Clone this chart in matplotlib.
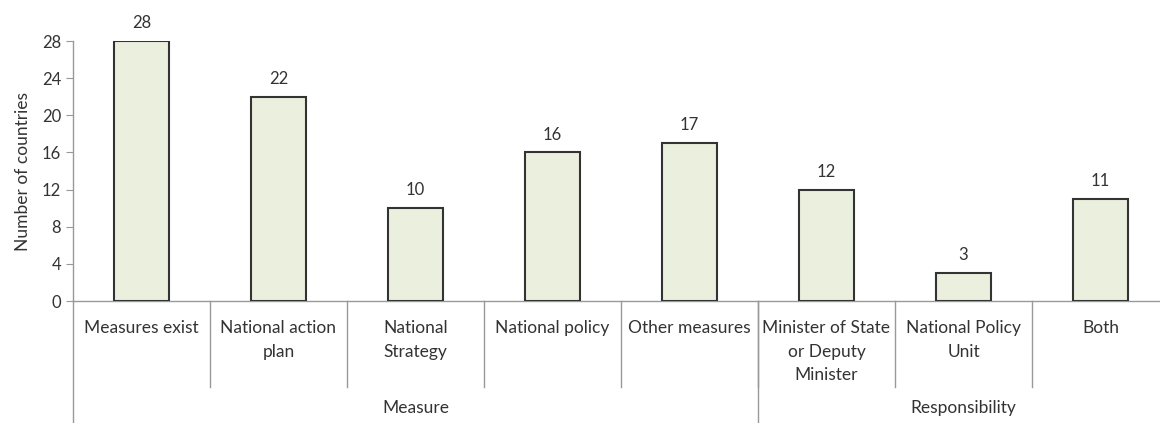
import matplotlib
matplotlib.use('Agg')
import matplotlib.pyplot as plt
import matplotlib.transforms as mtransforms

categories = ['Measures exist', 'National action\nplan', 'National\nStrategy', 'National policy',
              'Other measures', 'Minister of State\nor Deputy\nMinister', 'National Policy\nUnit', 'Both']
values = [28, 22, 10, 16, 17, 12, 3, 11]
groups = ['Measure', 'Responsibility']
group_sizes = [5, 3]
yticks = [0, 4, 8, 12, 16, 20, 24, 28]

plt.rcParams['font.family'] = ['Lato', 'DejaVu Sans']
text_col = '#333333'
line_col = '#999999'

fig = plt.figure(figsize=(11.6, 4.23), dpi=100)
# axes spans past right edge like the original (cropped)
ax = fig.add_axes([73 / 1160, 122 / 423, 1096 / 1160, 260 / 423])

x = list(range(len(values)))
ax.bar(x, values, width=0.4, color='#EBF0DE', edgecolor='#333333', linewidth=1.5, zorder=3)

for xi, v in zip(x, values):
    ax.annotate(str(v), (xi, v), xytext=(0, 7), textcoords='offset points',
                ha='center', va='bottom', fontsize=12, color=text_col)

ax.set_xlim(-0.5, len(values) - 0.5)
ax.set_ylim(0, 28)
ax.set_yticks(yticks)
ax.tick_params(axis='y', direction='out', length=5, color=line_col, labelsize=12, labelcolor=text_col)
ax.set_xticks([])
ax.set_ylabel('Number of countries', fontsize=12.5, color=text_col, labelpad=8)

for s in ['top', 'right']:
    ax.spines[s].set_visible(False)
for s in ['left', 'bottom']:
    ax.spines[s].set_color(line_col)
    ax.spines[s].set_linewidth(1)

trans = mtransforms.blended_transform_factory(ax.transData, ax.transAxes)

# first level labels and separators
for xi, lab in zip(x, categories):
    ax.text(xi, -0.072, lab, transform=trans, ha='center', va='top', fontsize=12.5,
            color=text_col, linespacing=1.6)
for i in range(1, len(values)):
    ax.plot([i - 0.5, i - 0.5], [0, -0.331], transform=trans, color=line_col, lw=1, clip_on=False)

# second level
start = 0
for g, n in zip(groups, group_sizes):
    ax.plot([start - 0.5, start - 0.5], [0, -0.47], transform=trans, color=line_col, lw=1, clip_on=False)
    ax.text(start + (n - 1) / 2, -0.41, g, transform=trans, ha='center', va='center',
            fontsize=12.5, color=text_col)
    start += n

fig.savefig('out.png', dpi=100)
